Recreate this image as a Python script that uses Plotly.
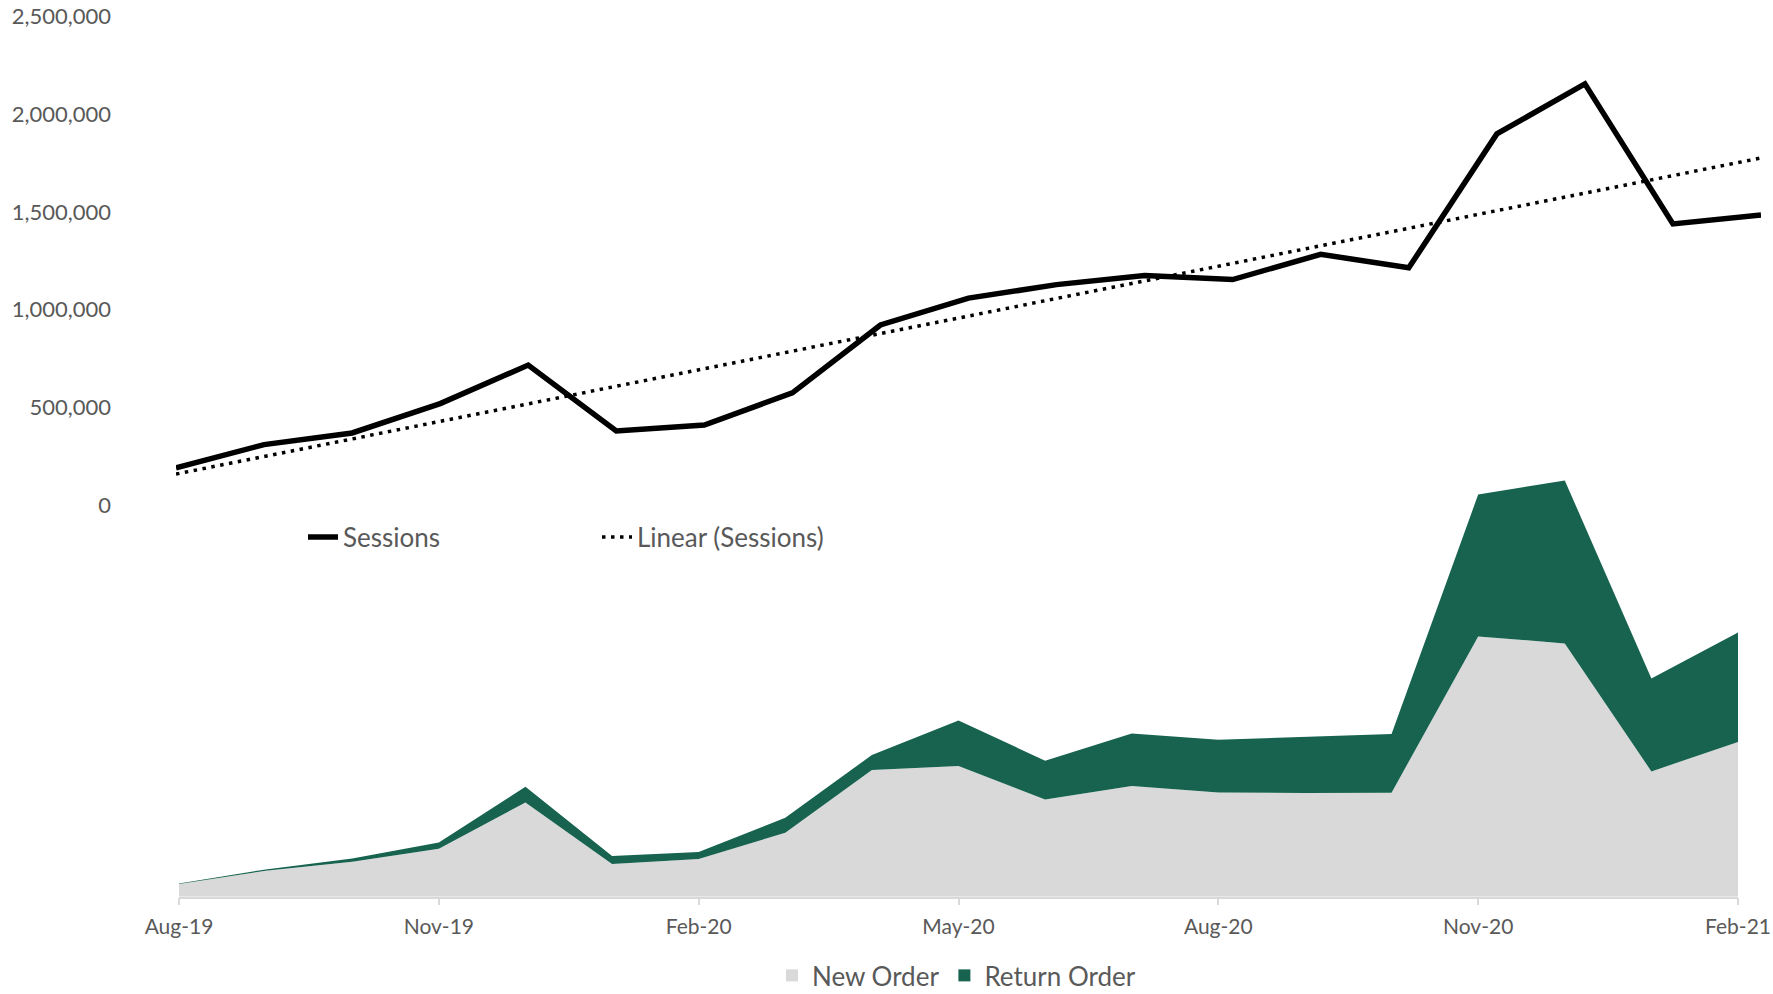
import numpy as np
import plotly.graph_objects as go

months = ["Aug-19", "Sep-19", "Oct-19", "Nov-19", "Dec-19", "Jan-20", "Feb-20",
          "Mar-20", "Apr-20", "May-20", "Jun-20", "Jul-20", "Aug-20", "Sep-20",
          "Oct-20", "Nov-20", "Dec-20", "Jan-21", "Feb-21"]
sessions = [191600, 310600, 370000, 520000, 717000, 380000, 411000, 575000,
            922000, 1059000, 1128000, 1174000, 1154000, 1283000, 1214000,
            1898000, 2154000, 1438000, 1484000]
new_orders = [1270, 2600, 3500, 4800, 9430, 3270, 3770, 6400, 12670, 13070,
              9730, 11070, 10430, 10370, 10400, 26030, 25330, 12530, 15470]
return_orders = [60, 130, 330, 630, 1570, 800, 700, 1500, 1500, 4560, 3870,
                 5260, 5270, 5630, 5870, 14180, 16300, 9300, 10960]
tick_labels = months[::3]

x_idx = list(range(len(months)))
tick_idx = x_idx[::3]
slope, intercept = np.polyfit(x_idx, sessions, 1)
trend = [slope * i + intercept for i in x_idx]

W, H = 1773, 994
def fx(px):
    return px / W
def fy(py):
    return 1 - py / H

FONT = "Lato"
GRAY_TXT = "#595959"
NEW_C = "#D9D9D9"
RET_C = "#17634F"

fig = go.Figure()
fig.add_trace(go.Scatter(x=x_idx, y=sessions, name="Sessions", mode="lines",
                         line=dict(color="black", width=5.5), xaxis="x", yaxis="y",
                         legend="legend"))
fig.add_trace(go.Scatter(x=x_idx, y=trend, name="Linear (Sessions)", mode="lines",
                         line=dict(color="black", width=3.5, dash="3.5px,5.5px"),
                         xaxis="x", yaxis="y", legend="legend"))
fig.add_trace(go.Scatter(x=x_idx, y=new_orders, name="New Order", mode="lines",
                         stackgroup="orders", line=dict(width=0, color=NEW_C),
                         fillcolor=NEW_C, xaxis="x2", yaxis="y2", showlegend=False))
fig.add_trace(go.Scatter(x=x_idx, y=return_orders, name="Return Order", mode="lines",
                         stackgroup="orders", line=dict(width=0, color=RET_C),
                         fillcolor=RET_C, xaxis="x2", yaxis="y2", showlegend=False))
# legend-only entries (square swatches) for the stacked areas
fig.add_trace(go.Bar(x=[None], y=[None], name="New Order", marker_color=NEW_C,
                     xaxis="x2", yaxis="y2", legend="legend2", hoverinfo="skip"))
fig.add_trace(go.Bar(x=[None], y=[None], name="Return Order", marker_color=RET_C,
                     xaxis="x2", yaxis="y2", legend="legend2", hoverinfo="skip"))

bottom_top_px = 430
fig.update_layout(
    template="none",
    width=W, height=H,
    margin=dict(l=0, r=0, t=0, b=0, pad=0, autoexpand=False),
    paper_bgcolor="white", plot_bgcolor="rgba(0,0,0,0)",
    font=dict(family=FONT, color=GRAY_TXT),
    showlegend=True,
    xaxis=dict(domain=[fx(176), fx(1761)], range=[0, 18], visible=False,
               anchor="y", automargin=False),
    yaxis=dict(domain=[fy(505.4), fy(16.1)], range=[0, 2500000], dtick=500000,
               tickformat=",", showgrid=False, zeroline=False, showline=False,
               ticks="", ticklabelstandoff=64, automargin=False,
               tickfont=dict(size=22, color=GRAY_TXT, family=FONT), anchor="x"),
    xaxis2=dict(domain=[fx(179), fx(1738)], range=[0, 18], anchor="y2",
                tickmode="array", tickvals=tick_idx, ticktext=tick_labels,
                showgrid=False, zeroline=False, showline=True, linecolor="#D9D9D9",
                linewidth=1.5, ticks="outside", ticklen=7, tickcolor="#D9D9D9",
                tickwidth=1.5, automargin=False, ticklabelstandoff=3,
                tickfont=dict(size=21, color=GRAY_TXT, family=FONT)),
    yaxis2=dict(domain=[fy(896.7), fy(bottom_top_px)],
                range=[0, (896.7 - bottom_top_px) * 100], visible=False,
                anchor="x2", automargin=False),
    legend=dict(orientation="h", x=fx(303), y=fy(537), xanchor="left",
                yanchor="middle", bgcolor="rgba(0,0,0,0)", entrywidth=249,
                traceorder="normal",
                font=dict(size=26, color=GRAY_TXT, family=FONT)),
    legend2=dict(orientation="h", x=fx(772), y=-0.005, xanchor="left",
                 yanchor="bottom", bgcolor="rgba(0,0,0,0)", traceorder="normal",
                 font=dict(size=26, color=GRAY_TXT, family=FONT)),
)

fig.write_html("out.html", config={"displayModeBar": False},
               post_script="document.body.style.margin='0';")
